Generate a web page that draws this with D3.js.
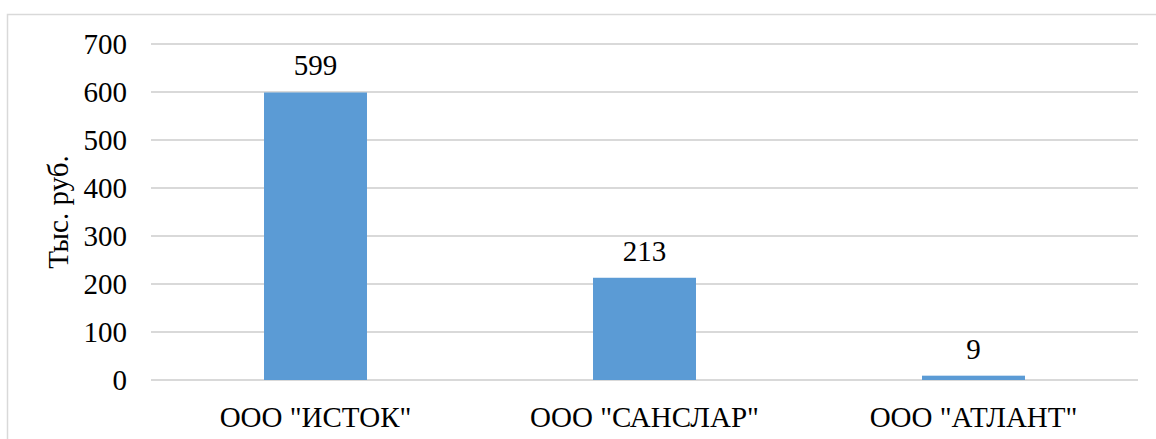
<!DOCTYPE html>
<html>
<head>
<meta charset="utf-8">
<script src="https://cdn.jsdelivr.net/npm/d3@7"></script>
<style>
  body { margin: 0; background: #fff; }
  svg text { fill: #000; }
</style>
</head>
<body>
<div id="chart"></div>
<script>
// data
var companies = ['ООО "ИСТОК"', 'ООО "САНСЛАР"', 'ООО "АТЛАНТ"'];
var values = [599, 213, 9];
var yTicks = [0, 100, 200, 300, 400, 500, 600, 700];
var yTitle = "Тыс. руб.";

var W = 1156, H = 439;
var plotLeft = 151, plotRight = 1138, plotTop = 44, plotBottom = 380;
var fs = 29;
var font = "'Liberation Serif', 'Times New Roman', 'Noto Serif', serif";

var svg = d3.select("#chart").append("svg")
  .attr("width", W).attr("height", H)
  .style("font-family", font);

// outer frame (right/bottom edges fall outside the picture)
svg.append("rect")
  .attr("x", 7.5).attr("y", 14.5)
  .attr("width", 1170).attr("height", 450)
  .attr("fill", "none").attr("stroke", "#d9d9d9").attr("stroke-width", 1.5);

var x = d3.scaleBand().domain(companies).range([plotLeft, plotRight]).paddingInner(0.687).paddingOuter(0.3435);
var y = d3.scaleLinear().domain([0, 700]).range([plotBottom, plotTop]);

// gridlines
svg.append("g").selectAll("line").data(yTicks).join("line")
  .attr("x1", plotLeft).attr("x2", plotRight)
  .attr("y1", d => y(d)).attr("y2", d => y(d))
  .attr("stroke", "#d9d9d9").attr("stroke-width", 2);

// y tick labels
svg.append("g").selectAll("text").data(yTicks).join("text")
  .attr("x", 127).attr("y", d => y(d) + 10)
  .attr("text-anchor", "end")
  .style("font-size", fs + "px")
  .text(d => d);

// bars
svg.append("g").selectAll("rect").data(values).join("rect")
  .attr("x", (d, i) => x(companies[i]))
  .attr("width", x.bandwidth())
  .attr("y", d => y(d))
  .attr("height", d => y(0) - y(d))
  .attr("fill", "#5b9bd5");

// value labels
svg.append("g").selectAll("text").data(values).join("text")
  .attr("x", (d, i) => x(companies[i]) + x.bandwidth() / 2)
  .attr("y", d => y(d) - 17)
  .attr("text-anchor", "middle")
  .style("font-size", fs + "px")
  .text(d => d);

// category labels
svg.append("g").selectAll("text").data(companies).join("text")
  .attr("x", d => x(d) + x.bandwidth() / 2)
  .attr("y", 427)
  .attr("text-anchor", "middle")
  .style("font-size", fs + "px")
  .text(d => d);

// y axis title
svg.append("text")
  .attr("transform", "translate(68," + ((plotTop + plotBottom) / 2) + ") rotate(-90)")
  .attr("text-anchor", "middle")
  .style("font-size", fs + "px")
  .text(yTitle);
</script>
</body>
</html>
